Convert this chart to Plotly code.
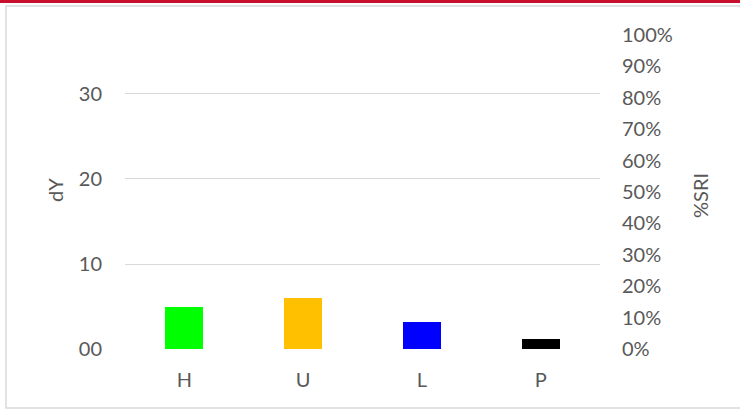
import plotly.graph_objects as go

# data
categories = ["H", "U", "L", "P"]
dy_values = [4.95, 6.0, 3.2, 1.15]
bar_colors = ["#00FF00", "#FFC000", "#0000FF", "#000000"]
left_tickvals = [0, 10, 20, 30]
left_ticktext = ["00", "10", "20", "30"]

FONT = "Lato, 'Open Sans', sans-serif"
GREY = "#595959"
GRID = "#d9d9d9"

# plot area in pixels: x 125..600, y 35..349
L, R, T, B = 125, 140, 35, 61
W, H = 740, 410
pw, ph = W - L - R, H - T - B


def px_x(x):
    return (x - L) / pw


def px_y(y):
    return (H - B - y) / ph


fig = go.Figure()
fig.add_trace(go.Bar(
    x=categories, y=dy_values, width=0.32,
    marker=dict(color=bar_colors, line=dict(width=0)),
    showlegend=False,
))
# empty series so the secondary axis is drawn
fig.add_trace(go.Scatter(
    x=categories, y=[None] * len(categories), yaxis="y2",
    mode="markers", showlegend=False, hoverinfo="skip",
))

fig.update_layout(
    width=W, height=H,
    margin=dict(l=L, r=R, t=T, b=B, autoexpand=False),
    paper_bgcolor="white", plot_bgcolor="white",
    font=dict(family=FONT, size=20, color=GREY),
    bargap=0,
    xaxis=dict(
        range=[-0.5, 3.5], showgrid=False, zeroline=False, showline=False,
        ticks="", ticklabelstandoff=17, tickfont=dict(size=20, color=GREY),
    ),
    yaxis=dict(
        range=[0, 36.94], tickvals=left_tickvals, ticktext=left_ticktext,
        showgrid=True, gridcolor=GRID, gridwidth=1, zeroline=False,
        showline=False, ticks="", ticklabelstandoff=22,
        tickfont=dict(size=20, color=GREY),
    ),
    yaxis2=dict(
        overlaying="y", side="right", range=[0, 1], dtick=0.1,
        tickformat=".0%", showgrid=False, zeroline=False, showline=False,
        ticks="", ticklabelstandoff=21, tickfont=dict(size=20, color=GREY),
    ),
    annotations=[
        dict(text="dY", x=px_x(55), y=px_y(190), xref="paper", yref="paper",
             textangle=-90, showarrow=False, font=dict(size=20, color=GREY),
             xanchor="center", yanchor="middle"),
        dict(text="%SRI", x=px_x(700), y=px_y(196), xref="paper", yref="paper",
             textangle=-90, showarrow=False, font=dict(size=20, color=GREY),
             xanchor="center", yanchor="middle"),
    ],
    shapes=[
        dict(type="rect", xref="paper", yref="paper",
             x0=px_x(6), x1=px_x(760), y0=px_y(408), y1=px_y(6),
             line=dict(color=GRID, width=1.5), fillcolor="rgba(0,0,0,0)",
             layer="below"),
        dict(type="rect", xref="paper", yref="paper",
             x0=px_x(-10), x1=px_x(760), y0=px_y(3), y1=px_y(-10),
             line=dict(width=0), fillcolor="#C8102E"),
    ],
)

fig.write_html("out.html", config={"displayModeBar": False},
               post_script="document.body.style.margin='0';")
